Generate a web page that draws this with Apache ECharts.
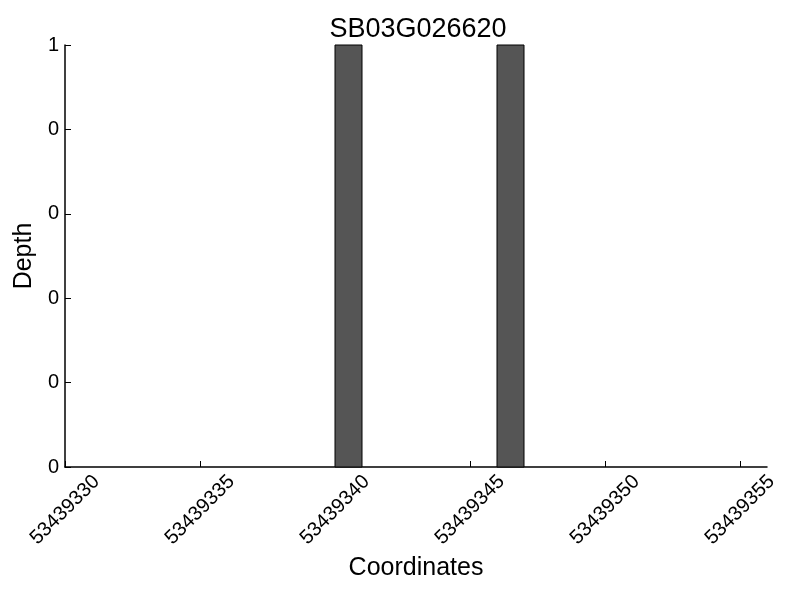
<!DOCTYPE html>
<html><head><meta charset="utf-8">
<script src="https://cdn.jsdelivr.net/npm/echarts@6/dist/echarts.min.js"></script>
<style>html,body{margin:0;padding:0;background:#fff}#c{width:800px;height:600px}</style>
</head><body><div id="c"></div>
<script>
const title = 'SB03G026620';
const coordinates = [53439340, 53439346];
const depths = [1, 1];
const xMin = 53439330, xMax = 53439356, xInterval = 5;
const yMin = 0, yMax = 1, yInterval = 0.2;

const chart = echarts.init(document.getElementById('c'), null, {renderer: 'canvas'});
const font = 'Liberation Sans, Arial, sans-serif';
chart.setOption({
  animation: false,
  backgroundColor: '#ffffff',
  title: {text: title, left: 413, top: 11, textAlign: 'center',
    textStyle: {fontFamily: font, fontSize: 27, fontWeight: 'normal', color: '#000'}},
  grid: {left: 65, right: 33, top: 45, bottom: 133},
  xAxis: {
    type: 'value', min: xMin, max: xMax, interval: xInterval,
    name: 'Coordinates', nameLocation: 'middle', nameGap: 88,
    nameTextStyle: {fontFamily: font, fontSize: 25, color: '#000'},
    axisLine: {show: true, lineStyle: {color: '#000', width: 1.5}},
    axisTick: {show: true, inside: true, length: 6, lineStyle: {color: '#000'}},
    splitLine: {show: false},
    axisLabel: {rotate: 45, align: 'center', verticalAlign: 'middle',
      fontFamily: font, fontSize: 20, color: '#000', margin: 43,
      showMaxLabel: false, hideOverlap: false, formatter: v => String(v)}
  },
  yAxis: {
    type: 'value', min: yMin, max: yMax, interval: yInterval,
    name: 'Depth', nameLocation: 'middle', nameGap: 26, nameRotate: 90,
    nameTextStyle: {fontFamily: font, fontSize: 25, color: '#000'},
    axisLine: {show: true, lineStyle: {color: '#000', width: 1.5}},
    axisTick: {show: true, inside: true, length: 6, lineStyle: {color: '#000'}},
    splitLine: {show: false},
    axisLabel: {fontFamily: font, fontSize: 20, color: '#000', margin: 6,
      formatter: v => String(Math.floor(v + 1e-9))}
  },
  series: [{
    type: 'custom',
    data: coordinates.map((c, i) => [c, depths[i]]),
    renderItem: function (params, api) {
      const x = api.value(0), y = api.value(1);
      const p0 = api.coord([x, 0]);
      const p1 = api.coord([x + 1, y]);
      return {
        type: 'rect',
        shape: {x: p0[0], y: p1[1], width: p1[0] - p0[0], height: p0[1] - p1[1]},
        style: {fill: '#555555', stroke: '#000', lineWidth: 1}
      };
    }
  }]
});
</script></body></html>
